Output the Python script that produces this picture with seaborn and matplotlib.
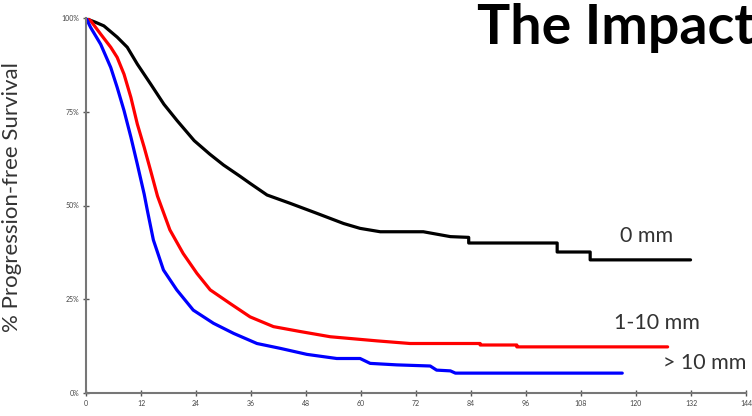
import matplotlib
matplotlib.use('Agg')
import matplotlib.pyplot as plt
import seaborn as sns
import pandas as pd

# Kaplan-Meier style curves (months, % progression-free)
months_0mm = [0, 0.3, 2, 3.9, 6.8, 9, 11.2, 14.1, 17, 19.9, 23.6, 27, 30, 33.6, 35.8, 39.5, 44.5,
              50.4, 56.2, 59.8, 64.2, 73.6, 79.5, 83.5, 83.5, 102.8, 102.8, 110, 110, 131.9]
pfs_0mm = [100, 99.7, 98.9, 97.9, 94.9, 92.2, 87.7, 82.4, 77, 72.6, 67.3, 63.7, 60.8, 57.8, 55.9, 52.8, 50.6,
           47.9, 45.2, 43.9, 43, 43, 41.7, 41.5, 40, 40, 37.6, 37.6, 35.5, 35.5]

months_1_10mm = [0, 1, 3.2, 5.4, 6.8, 8.3, 9.8, 11.2, 12.7, 14.1, 15.6, 18.3, 21.2, 24.2, 27.1, 31.4,
                 35.8, 40.9, 46.7, 53.3, 63.5, 70.7, 86, 86, 94, 94, 126.9]
pfs_1_10mm = [100, 99.3, 95.7, 92.2, 89.5, 85, 78.8, 71.7, 65.5, 59.3, 52.5, 43.5, 37.2, 31.9, 27.5, 23.9,
              20.3, 17.7, 16.4, 15, 13.9, 13.2, 13.2, 12.8, 12.8, 12.3, 12.3]

months_gt10mm = [0, 1, 3.2, 5.4, 6.8, 8.3, 9.8, 11.2, 12.7, 13.4, 14.7, 16.9, 19.8, 23.4, 27.8, 32.2,
                 37.3, 42.4, 48.2, 54.7, 59.8, 62, 67.8, 75.1, 76.5, 79.5, 80.6, 117]
pfs_gt10mm = [100, 97.5, 93, 86.8, 81.5, 75.3, 68.2, 61, 53, 48.6, 40.8, 32.8, 27.5, 22.1, 18.6, 15.9,
              13.2, 11.9, 10.3, 9.2, 9.2, 7.9, 7.5, 7.2, 6.1, 5.9, 5.3, 5.3]

groups = ['0 mm', '1-10 mm', '> 10 mm']
colors = ['#000000', '#ff0000', '#0000ff']
x_ticks = list(range(0, 145, 12))
y_ticks = [0, 25, 50, 75, 100]
y_tick_labels = ['0%', '25%', '50%', '75%', '100%']

df = pd.concat([
    pd.DataFrame({'month': months_0mm, 'pfs': pfs_0mm, 'group': groups[0]}),
    pd.DataFrame({'month': months_1_10mm, 'pfs': pfs_1_10mm, 'group': groups[1]}),
    pd.DataFrame({'month': months_gt10mm, 'pfs': pfs_gt10mm, 'group': groups[2]}),
], ignore_index=True)

sns.set_style('white')
plt.rcParams['font.family'] = ['Lato', 'DejaVu Sans']

fig = plt.figure(figsize=(7.52, 4.16), dpi=100)
ax = fig.add_axes([86 / 752, 1 - 393 / 416, 660 / 752, 375 / 416])

sns.lineplot(data=df, x='month', y='pfs', hue='group', palette=dict(zip(groups, colors)),
             estimator=None, sort=False, linewidth=2.3, legend=False, ax=ax)

ax.set_xlim(0, 144)
ax.set_ylim(0, 100)
ax.set_xticks(x_ticks)
ax.set_xticklabels([str(t) for t in x_ticks])
ax.set_yticks(y_ticks)
ax.set_yticklabels(y_tick_labels)
ax.tick_params(axis='both', labelsize=5, colors='#555555', labelcolor='#444444',
               direction='inout', length=4, width=1, pad=3, left=True, bottom=True)
for side in ['top', 'right']:
    ax.spines[side].set_visible(False)
for side in ['left', 'bottom']:
    ax.spines[side].set_color('#777777')
    ax.spines[side].set_linewidth(1.5)
ax.set_xlabel('')
ax.set_ylabel('% Progression-free Survival', fontsize=16, color='#333333')
ax.yaxis.set_label_coords(-0.097, 0.523)

# group labels next to the curve ends
ax.text(122.3, 42, '0 mm', fontsize=15.5, color='#333333', ha='center', va='center')
ax.text(124.5, 18.7, '1-10 mm', fontsize=15.5, color='#333333', ha='center', va='center')
ax.text(125.8, 8, '> 10 mm', fontsize=15.5, color='#333333', ha='left', va='center')

fig.text(477 / 752, 1 - 3 / 416, 'The Impact', fontsize=40, fontweight='bold',
         color='#000000', ha='left', va='top')

fig.savefig('out.png', dpi=100)
plt.close(fig)
